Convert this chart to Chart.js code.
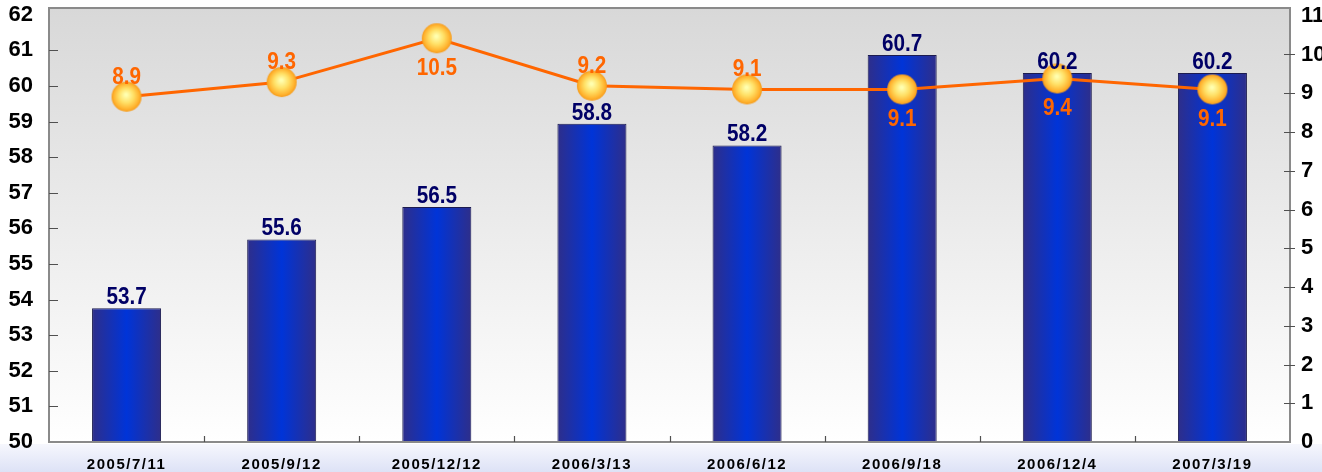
<!DOCTYPE html>
<html><head><meta charset="utf-8">
<script src="https://cdn.jsdelivr.net/npm/chart.js@4.4.1/dist/chart.umd.min.js"></script>
<style>html,body{margin:0;padding:0;background:#fff;overflow:hidden}</style>
</head><body>
<canvas id="c" width="1322" height="472"></canvas>
<script>
const categories = ['2005/7/11','2005/9/12','2005/12/12','2006/3/13','2006/6/12','2006/9/18','2006/12/4','2007/3/19'];
const barValues = [53.7, 55.6, 56.5, 58.8, 58.2, 60.7, 60.2, 60.2];
const lineValues = [8.9, 9.3, 10.5, 9.2, 9.1, 9.1, 9.4, 9.1];
const leftTickMin = 50, leftTickMax = 62;
const rightTickMin = 0, rightTickMax = 11;
const lineLabelSide = ['above','above','below','above','above','below','below','below'];

const FONT = '"Liberation Sans", Arial, sans-serif';

// point sprite
const sprite = document.createElement('canvas');
sprite.width = 32; sprite.height = 32;
(function(){
  const g = sprite.getContext('2d');
  const rg = g.createRadialGradient(15.5, 14, 1, 16, 16, 15);
  rg.addColorStop(0, '#ffffb0');
  rg.addColorStop(0.45, '#ffe066');
  rg.addColorStop(0.85, '#ffb22e');
  rg.addColorStop(1, '#f59a1a');
  g.fillStyle = rg;
  g.beginPath(); g.arc(16, 16, 15, 0, Math.PI * 2); g.fill();
})();

const BAR_PCT = 0.445;

const decor = {
  id: 'decor',
  beforeDraw(chart) {
    const {ctx, chartArea: a, width, height} = chart;
    ctx.save();
    ctx.fillStyle = '#ffffff';
    ctx.fillRect(0, 0, width, height);
    const bg = ctx.createLinearGradient(0, a.bottom + 2, 0, height);
    bg.addColorStop(0, '#f6f7fd');
    bg.addColorStop(1, '#dde2f6');
    ctx.fillStyle = bg;
    ctx.fillRect(0, a.bottom + 2, width, height - a.bottom - 2);
    const pg = ctx.createLinearGradient(0, a.top, 0, a.bottom);
    pg.addColorStop(0, '#d8d8d8');
    pg.addColorStop(1, '#ffffff');
    ctx.fillStyle = pg;
    ctx.fillRect(a.left, a.top, a.right - a.left, a.bottom - a.top);
    ctx.restore();
  },
  afterDatasetsDraw(chart) {
    const {ctx, chartArea: a, scales} = chart;
    ctx.save();
    // frame
    ctx.strokeStyle = '#8a8a8a';
    ctx.lineWidth = 2;
    ctx.strokeRect(a.left, a.top, a.right - a.left, a.bottom - a.top);
    // tick marks
    ctx.strokeStyle = '#505050';
    ctx.lineWidth = 1.2;
    ctx.beginPath();
    for (let v = leftTickMin + 1; v <= leftTickMax - 1; v++) {
      const y = Math.round(scales.yL.getPixelForValue(v)) + 0.5;
      ctx.moveTo(a.left, y); ctx.lineTo(a.left + 9, y);
    }
    for (let v = rightTickMin + 1; v <= rightTickMax - 1; v++) {
      const y = Math.round(scales.yR.getPixelForValue(v)) + 0.5;
      ctx.moveTo(a.right - 6, y); ctx.lineTo(a.right + 5, y);
    }
    const xs = scales.x;
    const step = (a.right - a.left) / categories.length;
    for (let i = 1; i < categories.length; i++) {
      const x = Math.round(xs.getPixelForValue(i) - step / 2) + 0.5;
      ctx.moveTo(x, a.bottom); ctx.lineTo(x, a.bottom - 6);
    }
    ctx.stroke();

    // labels
    ctx.font = 'bold 23px ' + FONT;
    ctx.textAlign = 'center';
    const barMeta = chart.getDatasetMeta(0);
    ctx.fillStyle = '#000066';
    ctx.textBaseline = 'alphabetic';
    barMeta.data.forEach((el, i) => {
      ctx.save();
      ctx.translate(el.x, el.y - 4);
      ctx.scale(0.9, 1);
      ctx.fillText(barValues[i].toFixed(1), 0, 0);
      ctx.restore();
    });
    const lineMeta = chart.getDatasetMeta(1);
    ctx.fillStyle = '#ff6600';
    lineMeta.data.forEach((el, i) => {
      ctx.save();
      const y = lineLabelSide[i] === 'above' ? el.y - 13 : el.y + 37;
      ctx.translate(el.x, y);
      ctx.scale(0.9, 1);
      ctx.fillText(lineValues[i].toFixed(1), 0, 0);
      ctx.restore();
    });
    ctx.restore();
  }
};

const letterSpacer = {
  id: 'letterSpacer',
  beforeDraw(chart) {
    const sc = chart.scales.x;
    if (sc && !sc._lsWrapped) {
      const orig = sc.drawLabels.bind(sc);
      sc.drawLabels = function(area) {
        const c = this.ctx;
        c.save();
        c.letterSpacing = '1.5px';
        orig(area);
        c.restore();
      };
      sc._lsWrapped = true;
    }
  }
};

new Chart(document.getElementById('c'), {
  data: {
    labels: categories,
    datasets: [
      {
        type: 'bar',
        data: barValues,
        yAxisID: 'yB',
        order: 1,
        barPercentage: BAR_PCT,
        categoryPercentage: 1,
        borderColor: '#1c1c50',
        borderWidth: 1,
        backgroundColor: (c) => {
          const ch = c.chart, xs = ch.scales.x, a = ch.chartArea;
          if (!xs || !a || c.dataIndex === undefined) return '#1030c0';
          const cx = xs.getPixelForValue(c.dataIndex);
          const w = (a.right - a.left) / categories.length * BAR_PCT;
          const g = ch.ctx.createLinearGradient(cx - w / 2, 0, cx + w / 2, 0);
          g.addColorStop(0, '#2e2e8a');
          g.addColorStop(0.5, '#0034d8');
          g.addColorStop(1, '#2e2e8a');
          return g;
        }
      },
      {
        type: 'line',
        data: lineValues,
        yAxisID: 'yLn',
        order: 0,
        borderColor: '#ff6600',
        borderWidth: 3,
        tension: 0,
        pointStyle: sprite,
        pointRadius: 15,
        pointHoverRadius: 15
      }
    ]
  },
  options: {
    responsive: false,
    animation: false,
    events: [],
    layout: { autoPadding: false, padding: { top: 8, left: 0, right: 0, bottom: 0 } },
    plugins: { legend: { display: false }, tooltip: { enabled: false } },
    scales: {
      x: {
        type: 'category',
        offset: true,
        grid: { display: false, drawTicks: false },
        border: { display: false },
        ticks: { color: '#000', font: { family: FONT, size: 15, weight: 'bold' }, padding: 14, maxRotation: 0, autoSkip: false },
        afterFit(s) { s.height = 30; s.paddingLeft = 0; s.paddingRight = 0; }
      },
      yL: {
        type: 'linear', position: 'left',
        min: leftTickMin, max: 62.19,
        grid: { display: false, drawTicks: false },
        border: { display: false },
        ticks: {
          stepSize: 1, includeBounds: false, padding: 16, color: '#000',
          font: { family: FONT, size: 22, weight: 'bold' },
          callback: (v) => Number.isInteger(v) && v <= leftTickMax ? String(v) : ''
        },
        afterFit(s) { s.width = 49; s.paddingTop = 0; s.paddingBottom = 0; }
      },
      yB: { type: 'linear', position: 'left', display: false, min: 50, max: 62 },
      yLn: { type: 'linear', position: 'right', display: false, min: -0.56, max: 11.33 },
      yR: {
        type: 'linear', position: 'right',
        min: rightTickMin, max: 11.2,
        grid: { display: false, drawTicks: false },
        border: { display: false },
        ticks: {
          stepSize: 1, includeBounds: false, padding: 11, color: '#000',
          font: { family: FONT, size: 22, weight: 'bold' },
          callback: (v) => Number.isInteger(v) && v <= rightTickMax ? String(v) : ''
        },
        afterFit(s) { s.width = 32; s.paddingTop = 0; s.paddingBottom = 0; }
      }
    }
  },
  plugins: [decor, letterSpacer]
});
</script>
</body></html>
